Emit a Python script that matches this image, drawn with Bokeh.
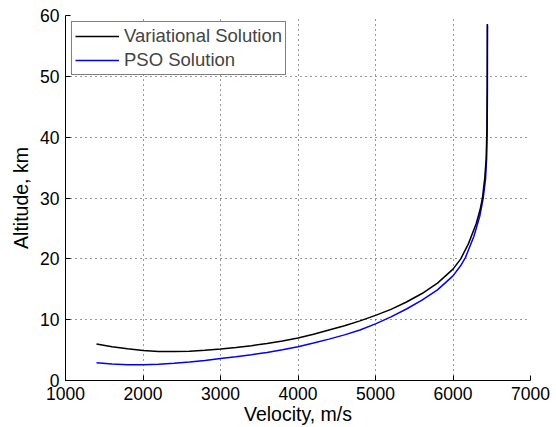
from bokeh.plotting import figure
from bokeh.embed import file_html
from bokeh.resources import INLINE
from bokeh.models import FixedTicker, Range1d

# Variational solution (black)
var_v = [1400, 1600, 1800, 2000, 2200, 2400, 2600, 2800, 3000, 3200, 3400, 3600, 3800,
         4000, 4200, 4400, 4600, 4800, 5000, 5200, 5400, 5600, 5800, 6000, 6100,
         6200, 6300, 6350, 6380, 6410, 6428, 6437, 6441, 6443]
var_h = [6.0, 5.55, 5.2, 4.95, 4.78, 4.75, 4.82, 4.97, 5.17, 5.42, 5.72, 6.1, 6.5,
         7.0, 7.6, 8.3, 9.0, 9.8, 10.7, 11.7, 12.9, 14.3, 16.0, 18.3, 20.0,
         22.5, 25.8, 28.1, 30.0, 33.3, 36.5, 41.0, 48.0, 58.6]

# PSO solution (blue)
pso_v = [1400, 1600, 1800, 2000, 2200, 2400, 2600, 2800, 3000, 3200, 3400, 3600, 3800,
         4000, 4200, 4400, 4600, 4800, 5000, 5200, 5400, 5600, 5800, 6000, 6100, 6160,
         6270, 6345, 6390, 6420, 6434, 6441, 6444, 6445]
pso_h = [2.9, 2.7, 2.58, 2.58, 2.68, 2.85, 3.05, 3.3, 3.6, 3.9, 4.25, 4.62, 5.05,
         5.55, 6.15, 6.8, 7.5, 8.3, 9.3, 10.45, 11.75, 13.2, 14.9, 17.2, 18.9, 20.2,
         23.7, 27.0, 30.0, 33.1, 36.5, 41.0, 48.0, 58.4]

x_ticks = [1000, 2000, 3000, 4000, 5000, 6000, 7000]
y_ticks = [0, 10, 20, 30, 40, 50, 60]

FONT = "Liberation Sans"

p = figure(width=556, height=427, output_backend="svg", toolbar_location=None,
           x_range=Range1d(1000, 7000), y_range=Range1d(0, 60),
           min_border_left=65, min_border_right=26, min_border_top=15, min_border_bottom=46)

p.line(pso_v, pso_h, line_color="#0000ff", line_width=1.5, legend_label="PSO Solution")
p.line(var_v, var_h, line_color="black", line_width=1.5, legend_label="Variational Solution")

# legend order: Variational first
items = p.legend[0].items
p.legend[0].items = [items[1], items[0]]

leg = p.legend[0]
leg.location = "top_left"
leg.margin = 6
leg.border_line_color = "black"
leg.border_line_width = 1
leg.background_fill_color = "white"
leg.background_fill_alpha = 1
leg.label_text_font = FONT
leg.label_text_font_size = "18.5px"
leg.label_text_line_height = 1.0
leg.glyph_width = 44
leg.glyph_height = 20
leg.label_height = 20
leg.label_standoff = 5
leg.padding = 3
leg.spacing = 2

p.outline_line_color = None
for ax in (p.xaxis[0], p.yaxis[0]):
    ax.major_label_text_font = FONT
    ax.major_label_text_font_size = "17.5px"
    ax.major_label_text_color = "black"
    ax.major_label_text_line_height = 1.0
    ax.axis_label_text_font = FONT
    ax.axis_label_text_font_size = "19.5px"
    ax.axis_label_text_font_style = "normal"
    ax.axis_label_text_color = "black"
    ax.axis_label_text_line_height = 1.0
    ax.axis_line_color = "black"
    ax.major_tick_line_color = "black"
    ax.major_tick_in = 5
    ax.major_tick_out = 0
    ax.minor_tick_line_color = None

p.xaxis[0].major_label_standoff = 6
p.yaxis[0].major_label_standoff = 6
p.xaxis[0].ticker = FixedTicker(ticks=x_ticks)
p.yaxis[0].ticker = FixedTicker(ticks=y_ticks)
p.xaxis[0].axis_label = "Velocity, m/s"
p.yaxis[0].axis_label = "Altitude, km"
p.xaxis[0].axis_label_standoff = 0
p.yaxis[0].axis_label_standoff = 5

for g in (p.xgrid[0], p.ygrid[0]):
    g.grid_line_color = "#333333"
    g.grid_line_dash = "1 4"
    g.grid_line_width = 1

open("out.html", "w").write(file_html(p, INLINE))
